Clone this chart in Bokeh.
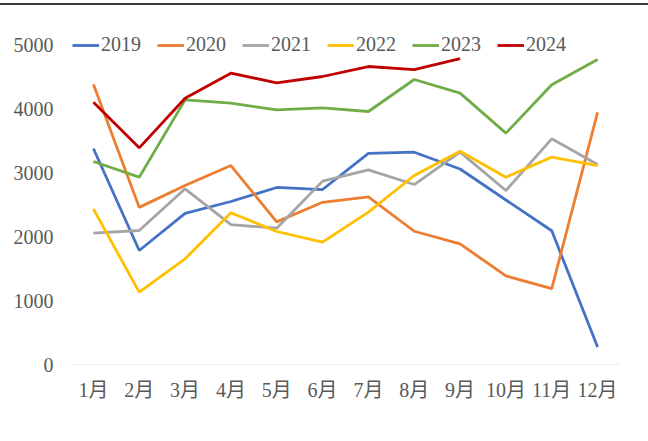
from bokeh.plotting import figure
from bokeh.models import Range1d, Legend, LegendItem, FixedTicker
from bokeh.embed import file_html
from bokeh.resources import INLINE

months = ["1月", "2月", "3月", "4月", "5月", "6月", "7月", "8月", "9月", "10月", "11月", "12月"]
y2019 = [3375, 1781, 2360, 2547, 2766, 2734, 3300, 3317, 3055, 2570, 2090, 275]
y2020 = [4380, 2455, 2797, 3109, 2228, 2534, 2620, 2082, 1885, 1385, 1185, 3940]
y2021 = [2052, 2094, 2745, 2187, 2130, 2865, 3042, 2812, 3318, 2719, 3526, 3125]
y2022 = [2432, 1130, 1651, 2370, 2078, 1911, 2380, 2953, 3333, 2927, 3240, 3109]
y2023 = [3172, 2927, 4135, 4083, 3979, 4010, 3953, 4453, 4240, 3615, 4370, 4765]
y2024 = [4099, 3385, 4161, 4552, 4401, 4500, 4656, 4606, 4780]
series = [("2019", y2019, "#4472C4"), ("2020", y2020, "#ED7D31"), ("2021", y2021, "#A5A5A5"),
          ("2022", y2022, "#FFC000"), ("2023", y2023, "#70AD47"), ("2024", y2024, "#C00000")]
yticks = [0, 1000, 2000, 3000, 4000, 5000]

FONT = "'Liberation Serif', 'Noto Sans CJK SC', serif"
TXT = "#595959"
FS = "20px"
xpos = list(range(1, len(months) + 1))

p = figure(width=648, height=436, x_range=Range1d(0.195, 12.5), y_range=Range1d(0, 5500),
           output_backend="svg", toolbar_location=None,
           min_border_left=56, min_border_right=28, min_border_top=7, min_border_bottom=77)
p.outline_line_color = None
p.xgrid.grid_line_color = None
p.ygrid.grid_line_color = None
p.styles = {"margin-top": "3px", "border-top": "2px solid #3a3a3a"}

# category axis baseline at 0 spanning the 12 month bands
p.segment(x0=[0.5], y0=[0], x1=[len(months) + 0.5], y1=[0], line_color="#D9D9D9", line_width=1)

items = []
for name, vals, col in series:
    r = p.line(x=xpos[:len(vals)], y=vals, line_color=col, line_width=2.8)
    items.append(LegendItem(label=name, renderers=[r]))

p.yaxis.ticker = FixedTicker(ticks=yticks)
p.yaxis.axis_line_color = None
p.yaxis.major_tick_line_color = None
p.yaxis.major_tick_out = 0
p.yaxis.major_tick_in = 0
p.yaxis.minor_tick_line_color = None
p.yaxis.major_label_text_font = FONT
p.yaxis.major_label_text_font_size = FS
p.yaxis.major_label_text_color = TXT
p.yaxis.major_label_standoff = 3

p.xaxis.ticker = FixedTicker(ticks=xpos)
p.xaxis.major_label_overrides = {x: m for x, m in zip(xpos, months)}
p.xaxis.axis_line_color = None
p.xaxis.major_tick_line_color = None
p.xaxis.major_tick_out = 0
p.xaxis.major_tick_in = 0
p.xaxis.minor_tick_line_color = None
p.xaxis.major_label_text_font = FONT
p.xaxis.major_label_text_font_size = FS
p.xaxis.major_label_text_color = TXT
p.xaxis.major_label_standoff = 14

legend = Legend(items=items, orientation="horizontal", location=(16, 308),
                label_text_font=FONT, label_text_font_size=FS, label_text_color=TXT,
                glyph_width=27, glyph_height=20, label_standoff=2, spacing=16,
                padding=0, margin=0, border_line_color=None, background_fill_alpha=0)
p.add_layout(legend, "center")

open("out.html", "w").write(file_html(p, INLINE))
